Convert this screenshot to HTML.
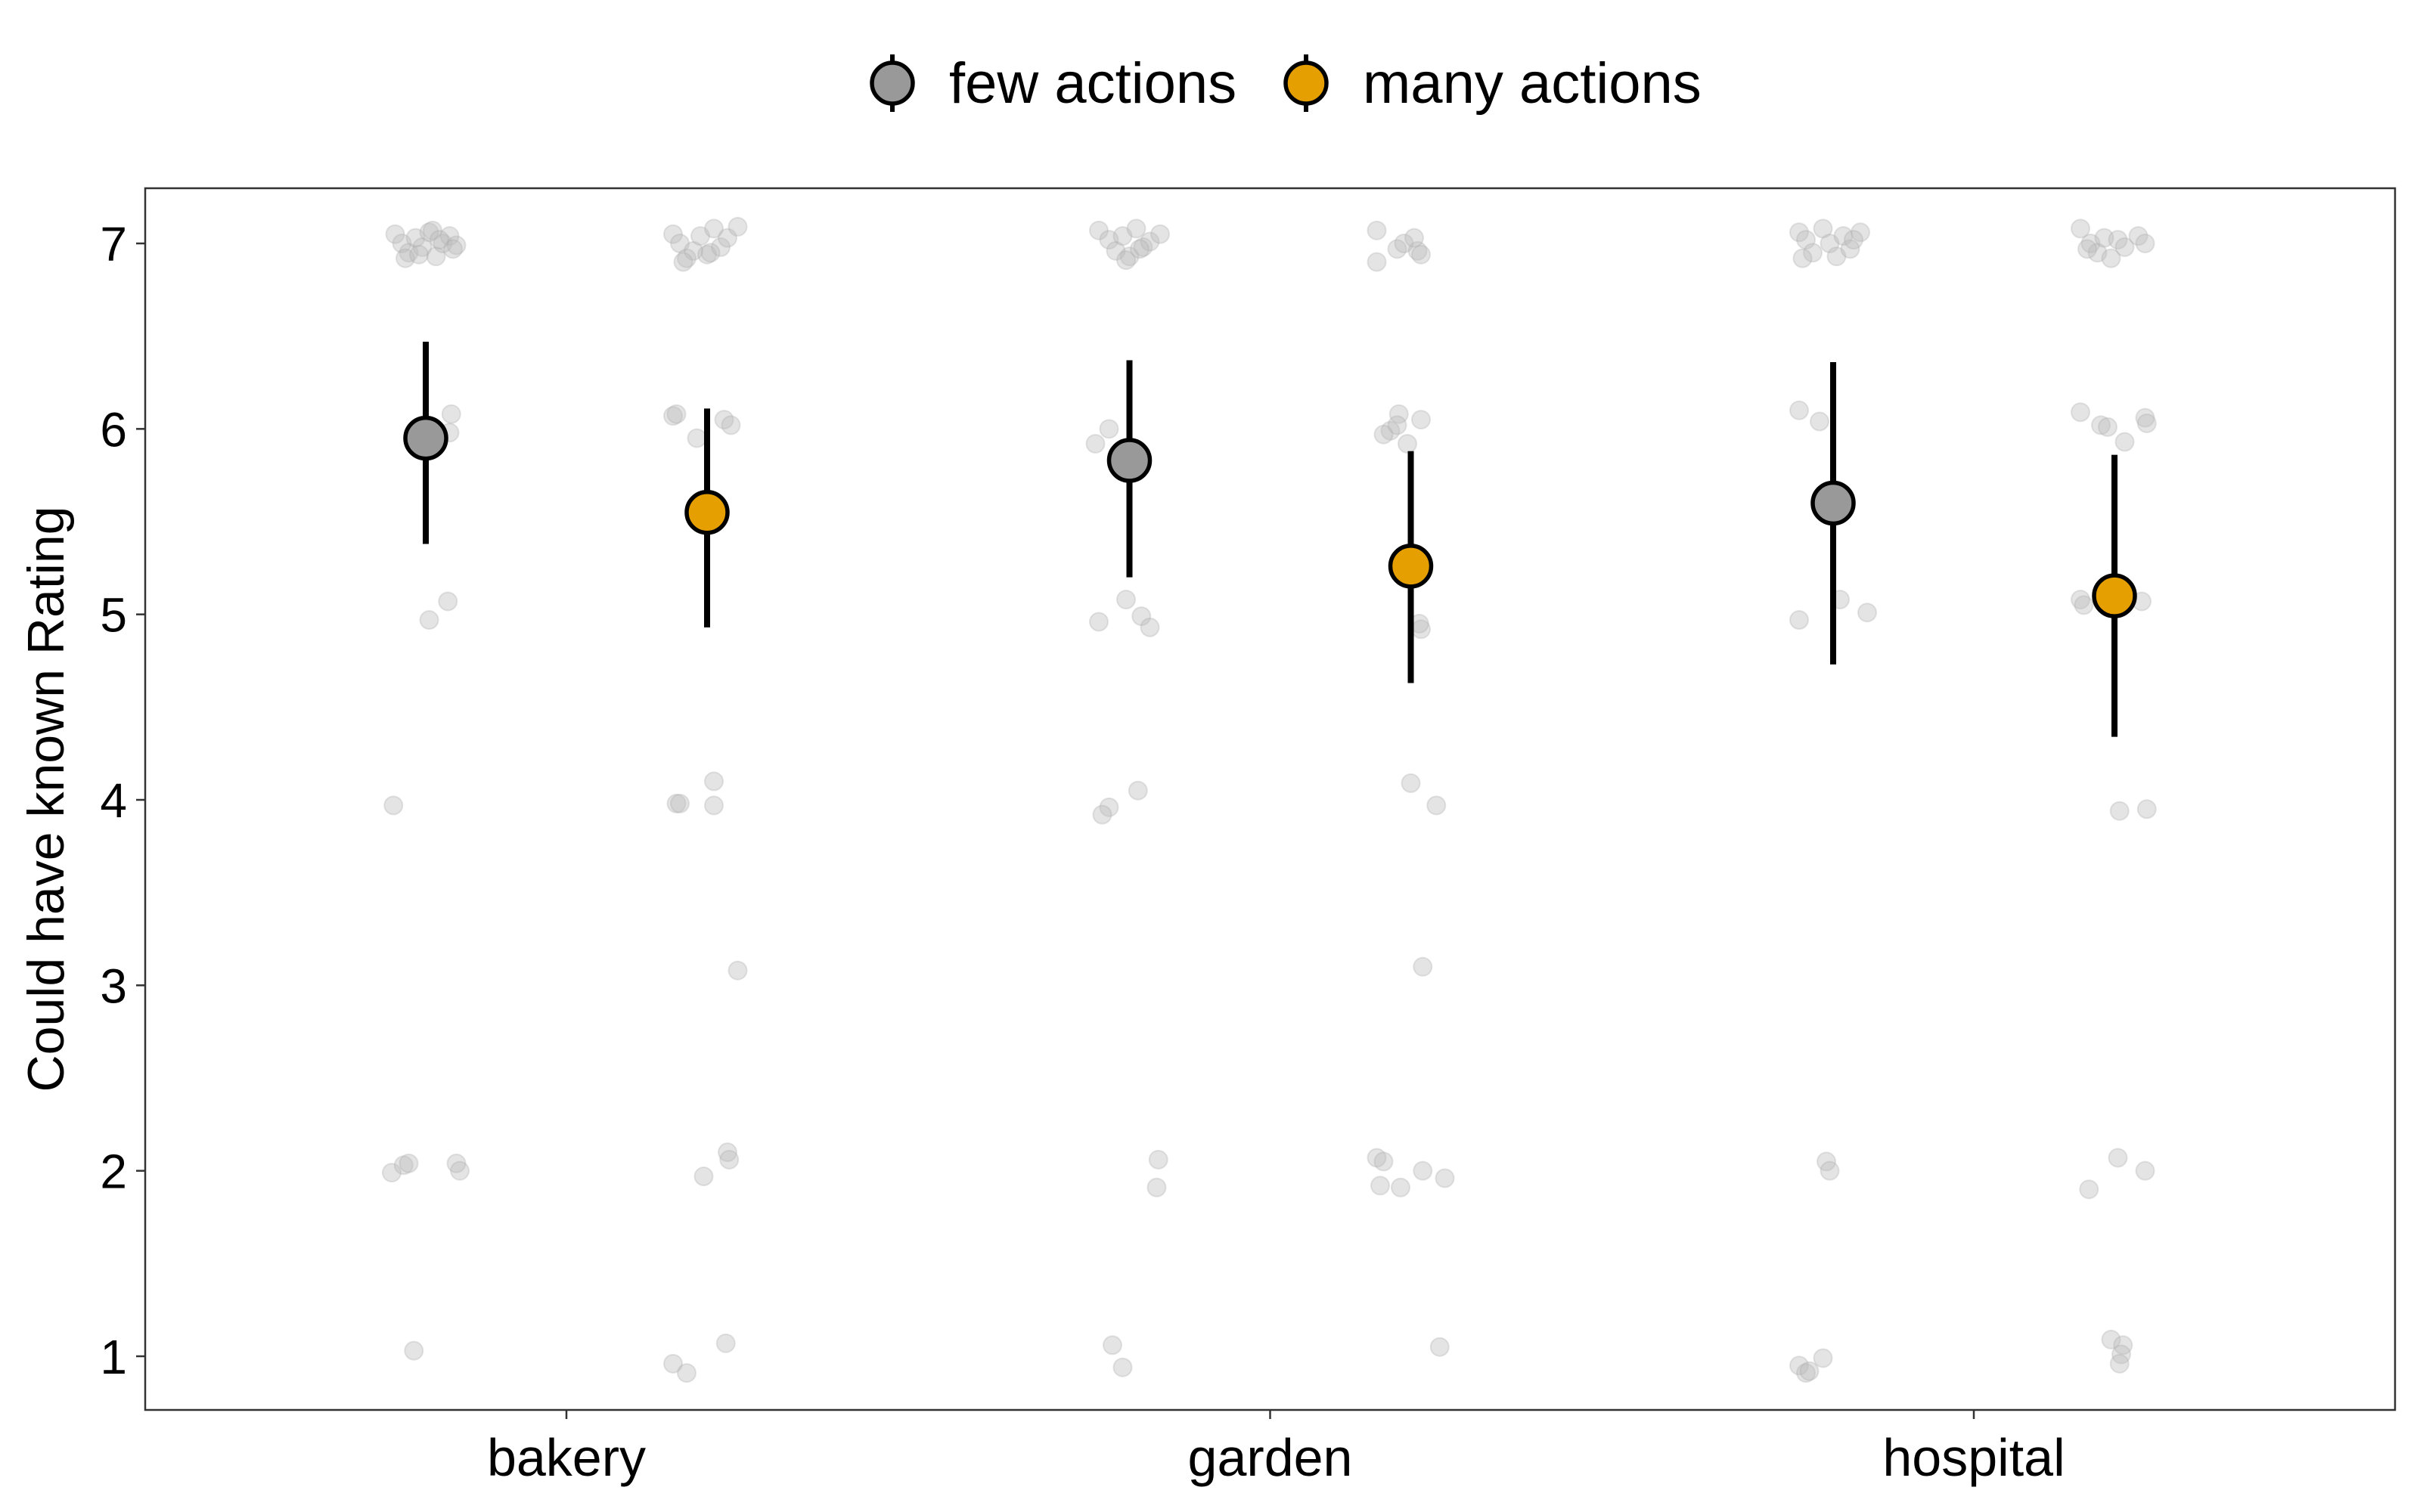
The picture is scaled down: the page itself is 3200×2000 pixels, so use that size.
<!DOCTYPE html>
<html><head><meta charset="utf-8"><style>
html,body{margin:0;padding:0;background:#fff;}
svg{display:block;font-family:"Liberation Sans",Arial,sans-serif;}
</style></head><body>
<svg id="chart" width="3200" height="2000" viewBox="0 0 3200 2000" xmlns="http://www.w3.org/2000/svg">
<rect width="3200" height="2000" fill="#fff"/>
<g id="legend">
  <g>
    <line x1="1180" y1="72" x2="1180" y2="148" stroke="#000" stroke-width="6"/>
    <circle cx="1180" cy="110" r="27" fill="#999" stroke="#000" stroke-width="5.5"/>
    <text x="1255" y="136" font-size="76" fill="#000">few actions</text>
  </g>
  <g>
    <line x1="1727" y1="72" x2="1727" y2="148" stroke="#000" stroke-width="6"/>
    <circle cx="1727" cy="110" r="27" fill="#E69F00" stroke="#000" stroke-width="5.5"/>
    <text x="1802" y="136" font-size="76" fill="#000">many actions</text>
  </g>
</g>
<rect x="192" y="249" width="2975" height="1616" fill="none" stroke="#333" stroke-width="2.5"/>
<g id="yaxis"></g>
<g id="xaxis"></g>
<g id="points"></g>
<g id="means"></g>
<text transform="translate(84,1057) rotate(-90)" text-anchor="middle" font-size="68" fill="#000">Could have known Rating</text>
</svg>
<script>
const categories = ["bakery","garden","hospital"];
const conditions = ["few","many"];
const yTicks = [1,2,3,4,5,6,7];
const meanValues = [[5.95,5.55],[5.83,5.26],[5.60,5.10]];
const ciLow = [[5.38,4.93],[5.20,4.63],[4.73,4.34]];
const ciHigh = [[6.47,6.11],[6.37,5.88],[6.36,5.86]];
const ptsBakeryFew = [[7.05,-0.9],[7.0,-0.7],[6.95,-0.5],[7.03,-0.3],[6.98,-0.1],[7.06,0.1],[6.93,0.3],[7.0,0.5],[7.04,0.7],[6.99,0.9],[6.92,-0.6],[7.07,0.2],[6.97,0.8],[6.94,-0.2],[7.02,0.4],[6.08,0.75],[5.98,0.7],[5.07,0.65],[4.97,0.1],[3.97,-0.95],[1.99,-1],[2.03,-0.65],[2.04,-0.5],[2.04,0.9],[2.0,1],[1.03,-0.35]];
const ptsBakeryMany = [[7.05,-1],[7.0,-0.8],[6.92,-0.6],[6.96,-0.4],[7.04,-0.2],[6.94,0],[7.08,0.2],[6.98,0.4],[7.03,0.6],[7.09,0.9],[6.9,-0.7],[6.95,0.1],[6.07,-1],[6.08,-0.9],[5.95,-0.3],[6.05,0.5],[6.02,0.7],[4.1,0.2],[3.98,-0.9],[3.98,-0.8],[3.97,0.2],[3.08,0.9],[2.1,0.6],[2.06,0.65],[1.97,-0.1],[1.07,0.55],[0.96,-1],[0.91,-0.6]];
const ptsGardenFew = [[7.07,-0.9],[7.02,-0.6],[6.96,-0.4],[7.04,-0.2],[6.93,0],[7.08,0.2],[6.98,0.4],[7.01,0.6],[7.05,0.9],[6.91,-0.1],[6.97,0.3],[6.0,-0.6],[5.92,-1],[5.08,-0.1],[4.96,-0.9],[4.99,0.35],[4.93,0.6],[4.05,0.25],[3.96,-0.6],[3.92,-0.8],[2.06,0.85],[1.91,0.8],[1.06,-0.5],[0.94,-0.2]];
const ptsGardenMany = [[7.07,-1],[6.9,-1],[6.97,-0.4],[7.0,-0.2],[6.96,0.2],[7.03,0.1],[6.94,0.3],[6.08,-0.35],[5.99,-0.6],[6.02,-0.4],[5.97,-0.8],[6.05,0.3],[5.92,-0.1],[4.92,0.3],[4.95,0.25],[4.09,0],[3.97,0.75],[3.1,0.35],[2.07,-1],[2.05,-0.8],[1.92,-0.9],[1.91,-0.3],[2.0,0.35],[1.96,1],[1.05,0.85]];
const ptsHospitalFew = [[7.06,-1],[7.02,-0.8],[6.95,-0.6],[7.08,-0.3],[7.0,-0.1],[6.93,0.1],[7.04,0.3],[6.97,0.5],[7.06,0.8],[6.92,-0.9],[7.02,0.6],[6.1,-1],[6.04,-0.4],[5.08,0.2],[4.97,-1],[5.01,1],[2.05,-0.2],[2.0,-0.1],[0.95,-1],[0.91,-0.8],[0.92,-0.7],[0.99,-0.3]];
const ptsHospitalMany = [[7.08,-1],[7.0,-0.7],[6.95,-0.5],[7.03,-0.3],[6.92,-0.1],[7.02,0.1],[6.98,0.3],[7.04,0.7],[7.0,0.9],[6.97,-0.8],[6.09,-1],[6.02,-0.4],[6.01,-0.2],[6.06,0.9],[6.03,0.95],[5.93,0.3],[5.08,-1],[5.05,-0.9],[5.07,0.8],[3.94,0.15],[3.95,0.95],[2.07,0.1],[1.9,-0.75],[2.0,0.9],[1.09,-0.1],[1.06,0.25],[1.01,0.2],[0.96,0.15]];
const groups = [[ptsBakeryFew,ptsBakeryMany],[ptsGardenFew,ptsGardenMany],[ptsHospitalFew,ptsHospitalMany]];

const NS="http://www.w3.org/2000/svg";
const y0=1794, yTop=322;
function yScale(v){return y0-(v-1)*(y0-yTop)/6;}
function xCat(i){return 749+i*930.5;}
function xCond(i,j){return xCat(i)+(j===0?-186:186);}
function mk(tag,attrs,parent){const e=document.createElementNS(NS,tag);for(const k in attrs)e.setAttribute(k,attrs[k]);parent.appendChild(e);return e;}
const yaxis=document.getElementById('yaxis');
yTicks.forEach(t=>{
  const l=mk('line',{x1:180,x2:192,y1:yScale(t),y2:yScale(t),stroke:'#333','stroke-width':2.5},yaxis);
  
  
  const tx=mk('text',{x:168,y:yScale(t)+23,'text-anchor':'end','font-size':64,fill:'#000'},yaxis);
  tx.textContent=t;
  
  
});
const xaxis=document.getElementById('xaxis');
categories.forEach((c,i)=>{
  const l=mk('line',{x1:xCat(i),x2:xCat(i),y1:1865,y2:1877,stroke:'#333','stroke-width':2.5},xaxis);
  
  
  const tx=mk('text',{x:xCat(i),y:1952,'text-anchor':'middle','font-size':70,fill:'#000'},xaxis);
  tx.textContent=c;
  
  
});
const pg=document.getElementById('points');
groups.forEach((g,i)=>g.forEach((pts,j)=>pts.forEach(p=>{
  const c=mk('circle',{cx:xCond(i,j)+p[1]*45,cy:yScale(p[0]),r:12,fill:'#bbb','fill-opacity':0.4,stroke:'#aaa','stroke-opacity':0.3,'stroke-width':2},pg);
  
  
})));
const mg=document.getElementById('means');
const fills=['#999999','#E69F00'];
categories.forEach((c,i)=>conditions.forEach((cond,j)=>{
  const x=xCond(i,j);
  const l=mk('line',{x1:x,x2:x,y1:yScale(ciLow[i][j]),y2:yScale(ciHigh[i][j]),stroke:'#000','stroke-width':8},mg);
  
  
  const m=mk('circle',{cx:x,cy:yScale(meanValues[i][j]),r:27,fill:fills[j],stroke:'#000','stroke-width':5.5},mg);
  
  
}));
</script>
</body></html>
